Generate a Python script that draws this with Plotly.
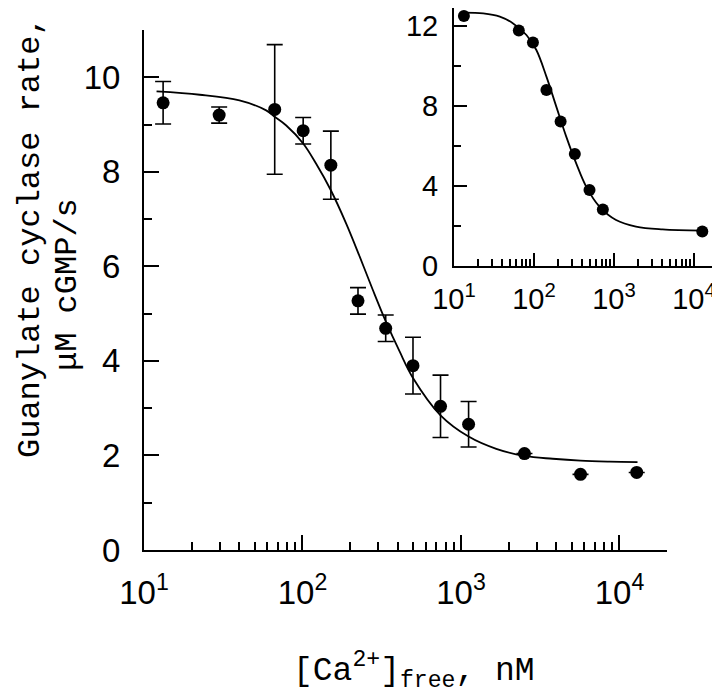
import plotly.graph_objects as go

# ---- main panel data ----
main_ca = [13.2, 29.8, 66.8, 101, 151, 224, 335, 498, 743, 1117, 2515, 5680, 12850]
main_rate = [9.46, 9.20, 9.32, 8.87, 8.14, 5.27, 4.69, 3.90, 3.04, 2.66, 2.04, 1.60, 1.64]
main_err = [0.45, 0.17, 1.37, 0.28, 0.72, 0.28, 0.28, 0.60, 0.66, 0.48, None, None, None]

main_fit_ca = [12, 22.5, 40, 59, 67, 79, 101, 122, 151, 189, 230, 278, 335, 410, 498,
               743, 1117, 1670, 2515, 3790, 5675, 8650, 13000]
main_fit_rate = [9.70, 9.63, 9.51, 9.30, 9.16, 8.98, 8.60, 8.17, 7.61, 6.90, 6.20, 5.50, 4.84,
                 4.20, 3.64, 2.85, 2.40, 2.14, 1.99, 1.93, 1.89, 1.87, 1.86]

# ---- inset data ----
inset_ca = [13.3, 64.6, 97, 143, 215, 324, 494, 725, 12700]
inset_rate = [12.5, 11.77, 11.18, 8.8, 7.22, 5.6, 3.8, 2.83, 1.72]

inset_fit_ca = [13.1, 23.2, 37.4, 54.8, 80.4, 107, 143, 190, 253, 337, 449, 658, 1061,
                1884, 4044, 12700]
inset_fit_rate = [12.67, 12.63, 12.47, 12.13, 11.55, 10.8, 9.47, 7.97, 6.47, 5.13, 3.97,
                  2.97, 2.30, 1.97, 1.83, 1.77]

x_tickvals = [10, 100, 1000, 10000]
x_ticktext = ["10<sup>1</sup>", "10<sup>2</sup>", "10<sup>3</sup>", "10<sup>4</sup>"]
x_minor = [m * d for d in [10, 100, 1000, 10000] for m in range(2, 10)]
main_yticks = [0, 2, 4, 6, 8, 10]
main_yminor = [1, 3, 5, 7, 9, 11]
inset_yticks = [0, 4, 8, 12]
inset_yminor = [2, 6, 10]

W, H = 720, 695
OFF = 8  # page body margin of the html output


def px(p):
    return min(1.0, max(0.0, (p - OFF) / W))


def py(p):
    return min(1.0, max(0.0, 1 - (p - OFF) / H))


tickfont = dict(family="Liberation Sans", size=33, color="black")
insetfont = dict(family="Liberation Sans", size=29, color="black")
titlefont = dict(family="Liberation Mono", size=32, color="black")
xtitlefont = dict(family="Liberation Mono", size=33, color="black")

fig = go.Figure()

fig.add_trace(go.Scatter(x=main_fit_ca, y=main_fit_rate, mode="lines", line_shape="spline",
                         line=dict(color="black", width=1.8), xaxis="x", yaxis="y",
                         showlegend=False, hoverinfo="skip"))
fig.add_trace(go.Scatter(x=main_ca, y=main_rate, mode="markers",
                         marker=dict(color="black", size=13, symbol="circle"),
                         error_y=dict(type="data", array=main_err, visible=True,
                                      color="black", thickness=1.6, width=8),
                         xaxis="x", yaxis="y", showlegend=False))

fig.add_trace(go.Scatter(x=inset_fit_ca, y=inset_fit_rate, mode="lines", line_shape="spline",
                         line=dict(color="black", width=1.8), xaxis="x2", yaxis="y2",
                         showlegend=False, hoverinfo="skip"))
fig.add_trace(go.Scatter(x=inset_ca, y=inset_rate, mode="markers",
                         marker=dict(color="black", size=12, symbol="circle"),
                         xaxis="x2", yaxis="y2", showlegend=False))

axis_common = dict(showgrid=False, zeroline=False, showline=True, linecolor="black",
                   linewidth=2, ticks="inside", tickcolor="black", tickwidth=1.5,
                   automargin=False, mirror=False)

fig.update_layout(
    width=W, height=H,
    margin=dict(l=0, r=0, t=0, b=0),
    paper_bgcolor="white", plot_bgcolor="white",
    xaxis=dict(type="log", range=[1, 4.3], domain=[px(144), px(667)], anchor="y",
               tickmode="array", tickvals=x_tickvals, ticktext=x_ticktext, ticklen=15,
               tickfont=tickfont, ticklabelstandoff=12,
               minor=dict(tickmode="array", tickvals=x_minor, ticks="inside", ticklen=8,
                          tickcolor="black", tickwidth=1.5),
               **axis_common),
    yaxis=dict(range=[0, 11], domain=[py(550), py(30)], anchor="x",
               tickmode="array", tickvals=main_yticks, ticklen=15, tickfont=tickfont,
               ticklabelstandoff=15,
               minor=dict(tickmode="array", tickvals=main_yminor, ticks="inside", ticklen=8,
                          tickcolor="black", tickwidth=1.5),
               **axis_common),
    xaxis2=dict(type="log", range=[1, 4.3], domain=[px(454), px(718)], anchor="y2",
                tickmode="array", tickvals=x_tickvals, ticktext=x_ticktext, ticklen=13,
                tickfont=insetfont, ticklabelstandoff=6,
                minor=dict(tickmode="array", tickvals=x_minor, ticks="inside", ticklen=7,
                           tickcolor="black", tickwidth=1.5),
                **axis_common),
    yaxis2=dict(range=[0, 12.9], domain=[py(266), py(8)], anchor="x2",
                tickmode="array", tickvals=inset_yticks, ticklen=13, tickfont=insetfont,
                ticklabelstandoff=8,
                minor=dict(tickmode="array", tickvals=inset_yminor, ticks="inside", ticklen=7,
                           tickcolor="black", tickwidth=1.5),
                **axis_common),
)

fig.add_annotation(text="Guanylate cyclase rate,", xref="paper", yref="paper",
                   x=px(30), y=py(237), xanchor="center", yanchor="middle",
                   textangle=-90, showarrow=False, font=titlefont, borderpad=0)
fig.add_annotation(text="\u03bcM cGMP/s", xref="paper", yref="paper",
                   x=px(67), y=py(285), xanchor="center", yanchor="middle",
                   textangle=-90, showarrow=False, font=titlefont, borderpad=0)
fig.add_annotation(text="[Ca<sup>2+</sup>]<sub>free</sub>, nM", xref="paper", yref="paper",
                   x=px(414), y=py(670), xanchor="center", yanchor="middle",
                   showarrow=False, font=xtitlefont)

fig.write_html("out.html")
